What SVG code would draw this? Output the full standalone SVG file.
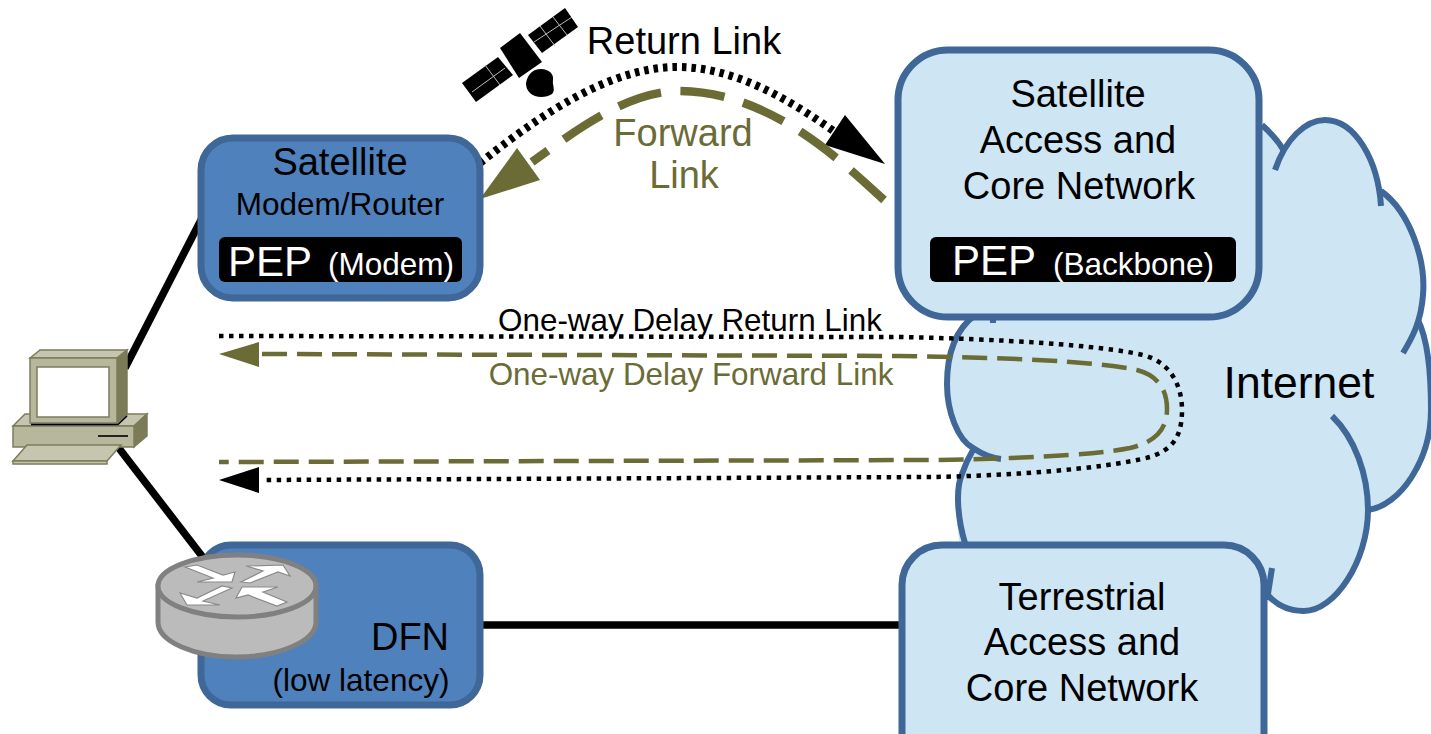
<svg xmlns="http://www.w3.org/2000/svg" width="1431" height="734" viewBox="0 0 1431 734">
<defs><style>
text{font-family:"Liberation Sans",Arial,sans-serif;text-anchor:middle;fill:#000}
.dk{fill:#4f81bd;stroke:#3f6797;stroke-width:7}
.lt{fill:#cee5f4;stroke:#3f6797;stroke-width:7}
.cl{fill:none;stroke:#3f6797;stroke-width:6}
.ol{fill:#6b6b35;stroke:none}
.olt{fill:#6b6b35}
.t38{font-size:38px}.t31{font-size:31.5px}.t42{font-size:42px}
.w{fill:#fff;text-anchor:start}
.pc1{fill:#b7b79c;stroke:#7c7c5c;stroke-width:1.5}
.pc2{fill:#c6c6b0;stroke:#7c7c5c;stroke-width:1.5}
.pc3{fill:#7b7b58;stroke:#7c7c5c;stroke-width:1.5}
.ar{fill:#fff;stroke:#8a8a8a;stroke-width:1.2}
</style></defs>
<rect width="1431" height="734" fill="#fff"/>

<g id="cloud">
<path fill="#cee5f4" d="M1250 115C1265 127 1277 140 1283 150C1295 130 1310 120 1325 120C1355 120 1378 160 1381 191C1410 212 1426 260 1423 295C1423 305 1420 313 1418 320C1428 340 1431 370 1431 410C1431 460 1400 506 1370 510C1368 560 1335 612 1303 612C1285 612 1272 604 1262 593L960 545C955 520 955 490 973 450C955 435 947 410 947 384C947 350 960 330 975 315Z"/>
<path class="cl" d="M1262 125C1271 133 1279 142 1284 151"/>
<path class="cl" d="M1275 170C1285 140 1305 120 1325 120C1355 120 1378 160 1381 206"/>
<path class="cl" d="M1381 191C1410 212 1426 260 1423 295C1421 322 1412 338 1403 353"/>
<path class="cl" d="M1418 320C1428 340 1431 370 1431 410C1431 460 1400 506 1368 510"/>
<path class="cl" d="M1332 416C1355 438 1368 475 1368 510C1368 560 1335 612 1303 611C1288 611 1275 604 1266 593"/>
<path class="cl" d="M1272 568L1267 600"/>
<path class="cl" d="M965 543C958 520 955 490 962 474C966 462 970 455 973 450"/>
<path class="cl" d="M993 317L993 323M975 315C955 330 947 355 947 384C947 412 958 440 973 448C982 454 992 458 1001 459"/>
</g>

<g id="links" fill="none">
<path stroke="#000" stroke-width="7.5" d="M202 218L125 368"/>
<path stroke="#000" stroke-width="7.5" d="M118 447L205 560"/>
<path stroke="#000" stroke-width="7.5" d="M480 625L905 625"/>
<path stroke="#000" stroke-width="8" stroke-dasharray="4.5 5" d="M480 163C540 115 610 67 677 67C735 67 790 100 835 132"/>
<polygon points="885,164 825,145 845,115" fill="#000"/>
<path stroke="#6b6b35" stroke-width="8.500" stroke-dasharray="44.500 19.500" d="M884 200C840 160 770 92 680 91C625 91 570 135 532 162"/>
<polygon class="ol" points="480,199 517,148 540,180"/>
<path stroke="#000" stroke-width="4.5" stroke-dasharray="4.5 5.5" d="M219 336L900 337C1000 339 1100 345 1143 355C1170 362 1182 385 1182 410C1182 440 1170 450 1150 457C1100 470 1000 476 930 477L262 480"/>
<polygon points="219,480 259,467 259,493" fill="#000"/>
<path stroke="#6b6b35" stroke-width="4.5" stroke-dasharray="25 10" d="M262 354L900 356C1000 358 1090 360 1137 370C1160 376 1167 392 1167 409C1167 430 1155 442 1130 448C1090 456 1000 459 937 460L219 462"/>
<polygon class="ol" points="219,354 259,342 259,367"/>
</g>

<g id="sat-modem">
<rect class="dk" x="201" y="138" width="279" height="160" rx="32"/>
<rect x="219" y="237" width="243" height="45" rx="6" fill="#000"/>
<text class="t38" x="340" y="175">Satellite</text>
<text class="t31" x="340" y="215">Modem/Router</text>
<text class="w t42" x="228" y="276">PEP</text>
<text class="w t31" x="328" y="275">(Modem)</text>
</g>

<g id="sat-net">
<rect class="lt" x="898" y="50" width="361" height="267" rx="50"/>
<rect x="930" y="237" width="306" height="45" rx="6" fill="#000"/>
<text class="t38" x="1078" y="107">Satellite</text>
<text class="t38" x="1078" y="153">Access and</text>
<text class="t38" x="1079" y="199">Core Network</text>
<text class="w t42" x="952" y="275">PEP</text>
<text class="w t31" x="1053" y="275">(Backbone)</text>
</g>

<g id="dfn">
<rect class="dk" x="201" y="545" width="279" height="160" rx="30"/>
<text class="t38" x="410" y="650">DFN</text>
<text class="t31" x="361" y="691">(low latency)</text>
</g>

<g id="terr-net">
<rect class="lt" x="902" y="545" width="362" height="230" rx="40"/>
<text class="t38" x="1082" y="610">Terrestrial</text>
<text class="t38" x="1082" y="655">Access and</text>
<text class="t38" x="1082" y="701">Core Network</text>
</g>

<g id="labels">
<text class="t38" x="684" y="54">Return Link</text>
<text class="t38 olt" x="683" y="146">Forward</text>
<text class="t38 olt" x="684" y="188">Link</text>
<text style="font-size:31.4px" x="690" y="331">One-way Delay Return Link</text>
<text class="olt" style="font-size:31.4px" x="691" y="385">One-way Delay Forward Link</text>
<text x="1299" y="398" style="font-size:44.5px">Internet</text>
</g>

<g id="satellite">
<polygon points="462,83 498,57 513,75 476,102" fill="#000"/>
<polygon points="500,48 520,33 542,62 519,78" fill="#000"/>
<polygon points="528,35 565,8 578,27 542,53" fill="#000"/>
<path d="M526 83C528 73 534 69 541 69C549 69 554 74 553 80C552 85 556 90 552 94C546 98 535 98 530 93C527 90 526 87 526 83Z" fill="#000"/>
<path fill="none" stroke="#bbb" stroke-width="1" d="M485 65L500 85M472 92L505 68M540 26L555 46M553 17L567 35M534 42L572 17"/>
</g>

<g id="computer">
<polygon class="pc2" points="13,426 25,414 147,414 134,426"/>
<polygon class="pc3" points="134,426 147,414 147,436 134,447"/>
<rect class="pc1" x="13" y="426" width="121" height="21"/>
<path d="M98 436H128" stroke="#222" stroke-width="2"/>
<polygon class="pc2" points="30,358 40,350 127,350 117,358"/>
<polygon class="pc3" points="117,358 127,350 127,415 117,423"/>
<rect class="pc1" x="30" y="358" width="87" height="65"/>
<rect x="37" y="367" width="72" height="50" fill="#fff" stroke="#7c7c5c" stroke-width="1.5"/>
<path d="M31 424.500H118L127 416" stroke="#000" stroke-width="1.500" fill="none"/>
<polygon class="pc2" points="13,461 27,445 121,445 107,461"/>
<rect class="pc2" x="13" y="461" width="94" height="3"/>
</g>

<g id="router">
<path fill="#bbb" stroke="#808080" stroke-width="5" d="M158 586V622C158 642 195 657 236 657C277 657 316 642 316 622V586Z"/>
<ellipse cx="237" cy="586" rx="79" ry="31" fill="#bbb" stroke="#808080" stroke-width="5"/>
<polygon class="ar" points="185,567 197,565 223,575 235,572 232,582 197,582 213,578"/>
<polygon class="ar" points="241,582 263,571 246,566 283,565 290,576 278,572 250,583"/>
<polygon class="ar" points="180,593 187,605 220,605 203,601 232,588 222,586 197,598"/>
<polygon class="ar" points="236,598 242,587 278,587 263,592 287,602 277,606 248,595"/>
</g>
</svg>
